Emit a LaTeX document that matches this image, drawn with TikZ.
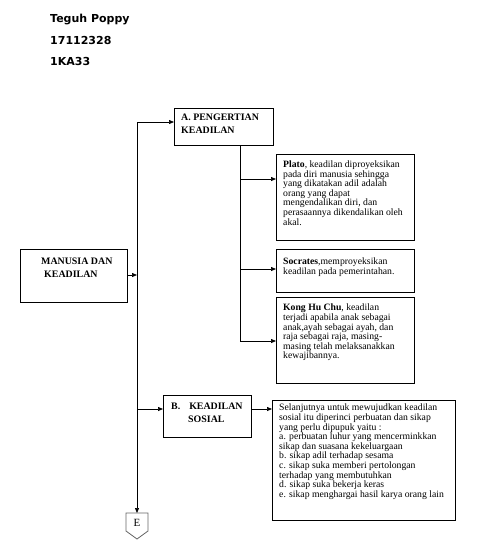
\documentclass[tikz,border=0pt]{standalone}
\usepackage{fontspec}
\setmainfont{Liberation Serif}
\newfontfamily\headfont{DejaVu Sans}
\usetikzlibrary{arrows.meta}
\begin{document}
\begin{tikzpicture}[x=1pt,y=-1pt,
 box/.style={draw,line width=0.8pt,anchor=north west,inner sep=0pt,outer sep=0pt},
 txt/.style={anchor=north west,inner sep=0pt,align=left,font=\fontsize{9.7}{9.6}\selectfont},
 hd/.style={anchor=north west,inner sep=0pt,align=left,font=\bfseries\fontsize{9.9}{13}\selectfont},
 arr/.style={line width=0.7pt,-{Triangle[length=5pt,width=4pt]}},
 ln/.style={line width=0.7pt}]
\useasboundingbox (0,0) rectangle (486,547);
% header
\node[anchor=north west,inner sep=0pt,align=left,font=\headfont\bfseries\fontsize{11}{21.5}\selectfont] (hdr) at (50,14) {Teguh Poppy\\17112328\\1KA33};
% boxes
\node[box,minimum width=107pt,minimum height=53pt] (M) at (20,249) {};
\node[box,minimum width=99pt,minimum height=37pt] (A) at (174,108) {};
\node[box,minimum width=138pt,minimum height=86pt] (P) at (276,154) {};
\node[box,minimum width=138pt,minimum height=43pt] (So) at (276,249) {};
\node[box,minimum width=138pt,minimum height=86pt] (K) at (276,297) {};
\node[box,minimum width=88pt,minimum height=42pt] (B) at (163,395) {};
\node[box,minimum width=183pt,minimum height=120pt] (S) at (272,400) {};
% texts
\node[hd] (Mt) at (41,257.5) {MANUSIA DAN\\\hspace*{3pt}KEADILAN};
\node[hd] (At) at (181,114) {A. PENGERTIAN\\KEADILAN};
\node[hd] (Bt) at (171,403) {B.\hspace{9pt}KEADILAN\\\hspace*{17pt}SOSIAL};
\node[txt] (Pt) at (283,160.5) {{\bfseries Plato}, keadilan diproyeksikan\\pada diri manusia sehingga\\yang dikatakan adil adalah\\orang yang dapat\\mengendalikan diri, dan\\perasaannya dikendalikan oleh\\akal.};
\node[txt] (Sot) at (283,258) {{\bfseries Socrates},memproyeksikan\\keadilan pada pemerintahan.};
\node[txt] (Kt) at (283,304) {{\bfseries Kong Hu Chu}, keadilan\\terjadi apabila anak sebagai\\anak,ayah sebagai ayah, dan\\raja sebagai raja, masing-\\masing telah melaksanakkan\\kewajibannya.};
\node[txt] (St) at (279,404) {Selanjutnya untuk mewujudkan keadilan\\sosial itu diperinci perbuatan dan sikap\\yang perlu dipupuk yaitu :\\a. perbuatan luhur yang mencerminkkan\\sikap dan suasana kekeluargaan\\b. sikap adil terhadap sesama\\c. sikap suka memberi pertolongan\\terhadap yang membutuhkan\\d. sikap suka bekerja keras\\e. sikap menghargai hasil karya orang lain};
% E off-page connector
\draw[line width=0.8pt,draw=black!60,fill=white] (126,513) -- (148,513) -- (148,531) -- (137,539) -- (126,531) -- cycle;
\node[font=\fontsize{11}{12}\selectfont,inner sep=0pt] (E) at (137,523) {E};
\coordinate (Etop) at (137,513);
% spine
\coordinate (s1) at (137,122);
\coordinate (s2) at (137,275);
\coordinate (s3) at (137,409);
\draw[arr] (s1) -- (Etop);
\draw[arr] (s1) -- (s1 -| A.west);
\draw[arr] (M.east |- s2) -- (s2);
\draw[arr] (s3) -- (s3 -| B.west);
\draw[arr] (B.east |- s3) -- (S.west |- s3);
% sub spine
\coordinate (a0) at (240,145);
\coordinate (a1) at (240,179);
\coordinate (a2) at (240,269);
\coordinate (a3) at (240,341);
\draw[ln] (a0) -- (a3);
\draw[arr] (a1) -- (a1 -| P.west);
\draw[arr] (a2) -- (a2 -| So.west);
\draw[arr] (a3) -- (a3 -| K.west);
\end{tikzpicture}
\end{document}
